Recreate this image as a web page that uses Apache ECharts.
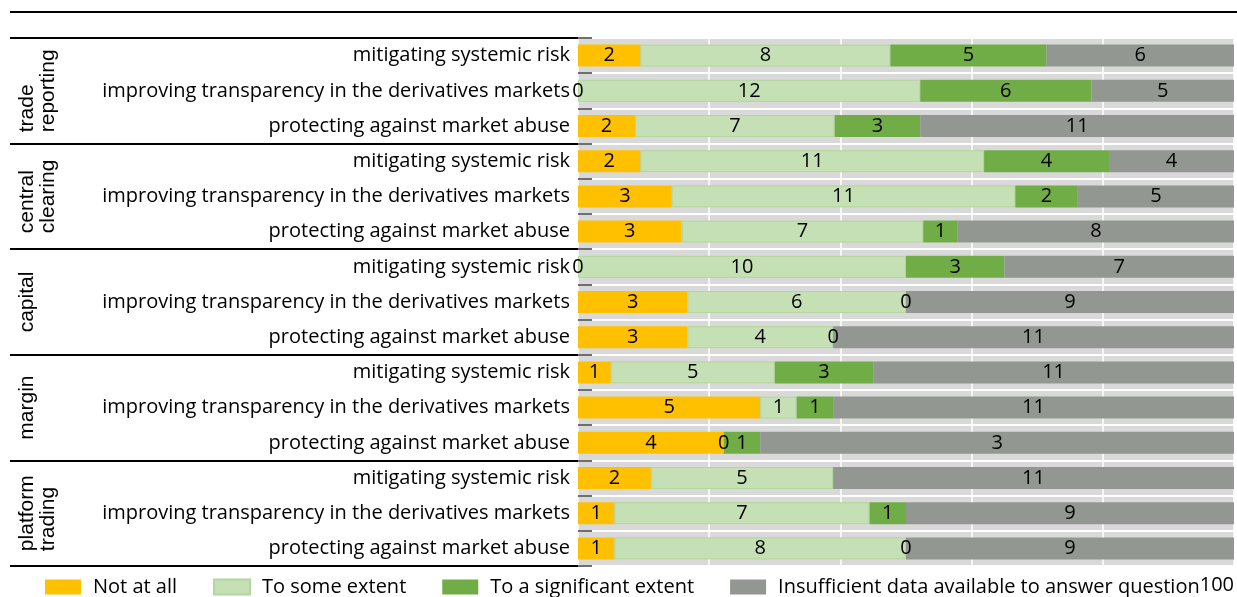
<!DOCTYPE html>
<html><head><meta charset="utf-8">
<script src="https://cdn.jsdelivr.net/npm/echarts@6/dist/echarts.min.js"></script>
<style>html,body{margin:0;padding:0;background:#fff}#c{width:1237px;height:597px}</style>
</head><body><div id="c"></div>
<script>
// ---- data ----
const groups = ['trade\nreporting', 'central\nclearing', 'capital', 'margin', 'platform\ntrading'];
const questions = ['mitigating systemic risk', 'improving transparency in the derivatives markets', 'protecting against market abuse'];
const categories = groups.flatMap(() => questions);
const seriesNames = ['Not at all', 'To some extent', 'To a significant extent', 'Insufficient data available to answer question'];
const notAtAll     = [2, 0, 2,   2, 3, 3,   0, 3, 3,   1, 5, 4,   2, 1, 1];
const someExtent   = [8, 12, 7,  11, 11, 7, 10, 6, 4,   5, 1, 0,   5, 7, 8];
const significant  = [5, 6, 3,   4, 2, 1,   3, 0, 0,   3, 1, 1,   null, 1, 0];
const insufficient = [6, 5, 11,  4, 5, 8,   7, 9, 11,  11, 11, 13, 11, 9, 9];
// printed labels (the reference shows "3" on the 13 bar)
const insufficientLabels = ['6', '5', '11', '4', '5', '8', '7', '9', '11', '11', '11', '3', '11', '9', '9'];
const xTickValues = [0, 20, 40, 60, 80, 100];

// ---- styles ----
const colors = ['#FFC000', '#C5E0B4', '#70AD47', '#929792'];
const FONT = 'Open Sans';

const allSeries = [notAtAll, someExtent, significant, insufficient];
const totals = categories.map((_, i) => allSeries.reduce((s, a) => s + (a[i] == null ? 0 : a[i]), 0));
const labelSets = [notAtAll.map(String), someExtent.map(String), significant.map(v => v == null ? '' : String(v)), insufficientLabels];

const chart = echarts.init(document.getElementById('c'), null, {renderer: 'canvas'});
chart.setOption({
  animation: false,
  backgroundColor: '#fff',
  textStyle: {fontFamily: FONT},
  graphic: [{type: 'line', shape: {x1: 10, y1: 12, x2: 1237, y2: 12}, style: {stroke: '#000', lineWidth: 2}}],
  legend: {
    left: 40, top: 572, itemWidth: 36, itemHeight: 15, itemGap: 36, icon: 'rect',
    data: seriesNames,
    textStyle: {fontFamily: FONT, fontSize: 20, color: '#000', padding: [0, 0, 0, 7]}
  },
  grid: {left: 578, right: -4, top: 38, bottom: 31, show: true, backgroundColor: '#d9d9d9', borderWidth: 0},
  xAxis: {
    type: 'value', min: 0, max: 100, interval: 20,
    axisLine: {show: false}, axisTick: {show: false},
    splitLine: {show: true, lineStyle: {color: '#fff', width: 1.5}},
    axisLabel: {
      margin: 9, fontSize: 20, color: '#000', fontFamily: FONT, align: 'right',
      formatter: v => v === xTickValues[xTickValues.length - 1] ? String(v) : ''
    }
  },
  yAxis: [{
    type: 'category', data: categories, inverse: true,
    axisLine: {show: false},
    axisTick: {show: true, inside: true, length: 14, lineStyle: {color: '#404040', width: 1.5}},
    splitLine: {show: true, lineStyle: {color: '#fff', width: 2}},
    axisLabel: {margin: 8, fontSize: 20, color: '#000', fontFamily: FONT}
  }, {
    type: 'category', data: groups, inverse: true, position: 'left',
    axisLine: {show: false},
    axisTick: {show: true, length: 568, lineStyle: {color: '#000', width: 2}},
    splitLine: {show: false},
    axisLabel: {
      rotate: 90, margin: 561, verticalAlign: 'top', align: 'center',
      formatter: v => v.split('\n').map(s => '{g|' + s + '}').join('\n'),
      rich: {g: {fontFamily: 'Liberation Sans', fontSize: 21, color: '#000', align: 'left', lineHeight: 21}}
    }
  }],
  series: allSeries.map((arr, k) => ({
    name: seriesNames[k], type: 'bar', stack: 'total', barWidth: 22, yAxisIndex: 0,
    itemStyle: k === 1 ? {color: colors[k], borderColor: '#b2d69b', borderWidth: 1} : {color: colors[k]},
    label: {show: true, position: 'inside', color: '#000', fontSize: 20, fontFamily: FONT,
      formatter: p => labelSets[k][p.dataIndex]},
    data: arr.map((v, i) => v == null ? '-' : v / totals[i] * 100)
  }))
});
</script></body></html>
